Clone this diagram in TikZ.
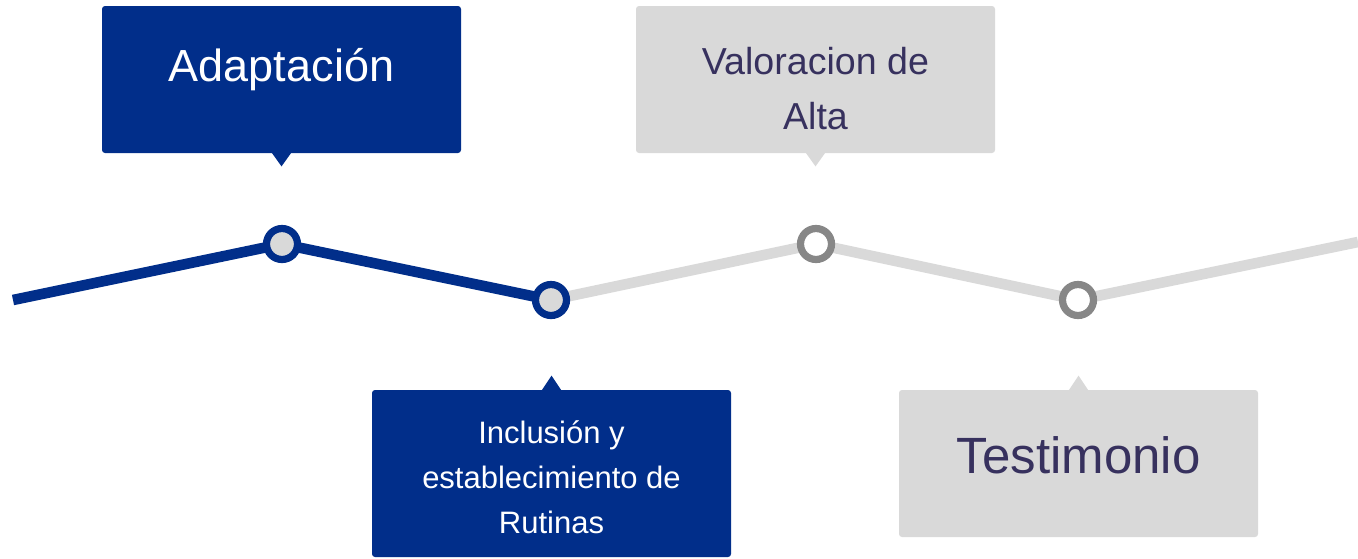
\documentclass[tikz,border=0pt]{standalone}
\usepackage{fontspec}
\setmainfont{Liberation Sans}
\usepackage{tikz}
\usetikzlibrary{positioning, calc, backgrounds}

\definecolor{navyblue}{RGB}{1,46,138}
\definecolor{lightgrey}{RGB}{217,217,217}
\definecolor{midgrey}{RGB}{135,135,135}
\definecolor{darkink}{RGB}{55,49,94}

\begin{document}
\begin{tikzpicture}[x=0.5pt, y=-0.5pt, line cap=round,
    callout/.style={rectangle, rounded corners=1.5pt, inner sep=0pt,
      minimum width=179.5pt, minimum height=73.5pt},
    done/.style={callout, fill=navyblue},
    todo/.style={callout, fill=lightgrey},
    donedot/.style={circle, draw=navyblue, fill=lightgrey, line width=3.6pt,
      inner sep=0pt, minimum size=15.5pt},
    tododot/.style={circle, draw=midgrey, fill=white, line width=3.6pt,
      inner sep=0pt, minimum size=15.5pt}]
    \useasboundingbox (0,0) rectangle (1358,558);
    % milestones on the zigzag
    \coordinate (start) at (13,300);
    \node[donedot] (m1) at (282,244) {};
    \node[donedot] (m2) at (551,300) {};
    \node[tododot] (m3) at (816,244) {};
    \node[tododot] (m4) at (1078,300) {};
    \coordinate (stop) at (1358,242);
    \begin{scope}[on background layer]
      \draw[lightgrey, line width=5.3pt, line cap=butt]
        (m2.center) -- (m3.center) -- (m4.center) -- (stop);
      \draw[navyblue, line width=5.3pt, line join=round]
        (start) -- (m1.center) -- (m2.center);
    \end{scope}
    % callouts
    \node[done] (b1) at (281.5,79.5) {};
    \node[done, minimum height=83.5pt] (b2) at (551.5,473.5) {};
    \node[todo] (b3) at (815.5,79.5) {};
    \node[todo] (b4) at (1078.5,463.5) {};
    \fill[navyblue] ($(b1.south)+(-10,-1)$) -- ++(10,14) -- ++(10,-14) -- cycle;
    \fill[navyblue] ($(b2.north)+(-10,1)$) -- ++(10,-15) -- ++(10,15) -- cycle;
    \fill[lightgrey] ($(b3.south)+(-10,-1)$) -- ++(10,14) -- ++(10,-14) -- cycle;
    \fill[lightgrey] ($(b4.north)+(-10,1)$) -- ++(10,-15) -- ++(10,15) -- cycle;
    \node[white, font=\fontsize{22.5}{27}\selectfont] (t1)
      at ($(b1.center)+(0,-10)$) {Adaptación};
    \node[white, align=center, font=\fontsize{15.5}{22.5}\selectfont] (t2)
      at ($(b2.center)+(0,4)$) {Inclusión y\\establecimiento de\\Rutinas};
    \node[darkink, align=center, font=\fontsize{18.8}{27.5}\selectfont] (t3)
      at ($(b3.center)+(0,9)$) {Valoracion de\\Alta};
    \node[darkink, font=\fontsize{25.5}{30}\selectfont] (t4)
      at ($(b4.center)+(0,-8)$) {Testimonio};
\end{tikzpicture}
\end{document}
